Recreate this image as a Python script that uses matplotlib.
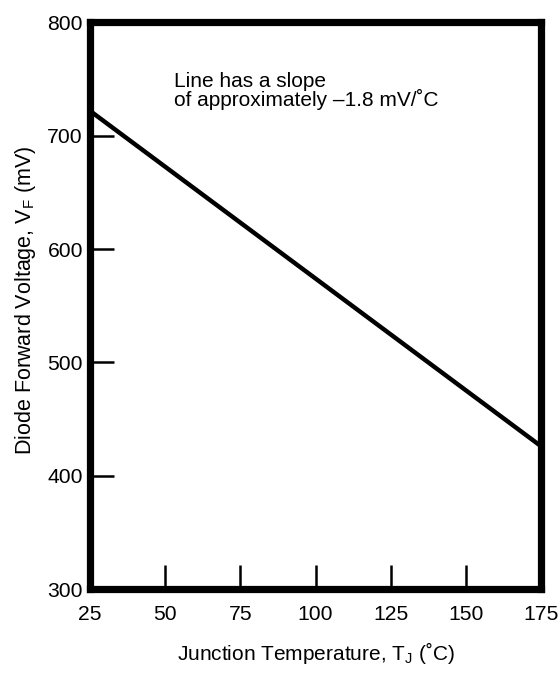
import numpy as np
import matplotlib.pyplot as plt

# data
temp_c = [25, 175]
vf_mv = [722, 426]
x_ticks = [25, 50, 75, 100, 125, 150, 175]
y_ticks = [300, 400, 500, 600, 700, 800]

plt.rcParams['font.family'] = ['Liberation Sans', 'DejaVu Sans']
plt.rcParams['mathtext.fontset'] = 'custom'
plt.rcParams['mathtext.rm'] = 'Liberation Sans'

fig = plt.figure(figsize=(5.58, 6.75), dpi=100)
ax = fig.add_axes([0.161, 0.127, 0.809, 0.840])

# the V_F vs T_J line
ax.plot(temp_c, vf_mv, color='black', lw=3.2, solid_capstyle='butt')

ax.set_xlim(25, 175)
ax.set_ylim(300, 800)
ax.set_xticks(x_ticks)
ax.set_yticks(y_ticks)

# heavy frame, inward ticks
for sp in ax.spines.values():
    sp.set_linewidth(5.2)
ax.tick_params(axis='both', direction='in', length=17, width=1.8,
               labelsize=15.2, color='black')
ax.tick_params(axis='x', pad=11)
ax.tick_params(axis='y', pad=5)

ax.set_xlabel('Junction Temperature, T$_\\mathregular{J}$ (˚C)', fontsize=15, labelpad=12)
ax.set_ylabel('Diode Forward Voltage, V$_\\mathregular{F}$ (mV)', fontsize=15.5, labelpad=7)
ax.yaxis.label.set_y(0.509)

ax.text(0.186, 0.913, 'Line has a slope\nof approximately –1.8 mV/˚C',
        transform=ax.transAxes, fontsize=15, va='top', ha='left', linespacing=0.9)

fig.savefig('out.png', dpi=100)
